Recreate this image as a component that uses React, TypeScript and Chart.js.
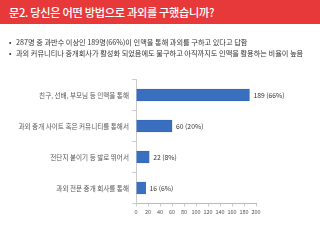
import React, { useEffect, useRef } from "react";
import { Chart, registerables } from "chart.js";

Chart.register(...registerables);

const title = "문2. 당신은 어떤 방법으로 과외를 구했습니까?";
const bullets = [
  "287명 중 과반수 이상인 189명(66%)이 인맥을 통해 과외를 구하고 있다고 답함",
  "과외 커뮤니티나 중개회사가 활성화 되었음에도 불구하고 아직까지도 인맥을 활용하는 비율이 높음",
];
const categories = [
  "친구, 선배, 부모님 등 인맥을 통해",
  "과외 중개 사이트 혹은 커뮤니티를 통해서",
  "전단지 붙이기 등 발로 뛰어서",
  "과외 전문 중개 회사를 통해",
];
const counts = [189, 60, 22, 16];
const percents = ["66%", "20%", "8%", "6%"];

const FONT = "'Noto Sans CJK KR', 'Noto Sans', sans-serif";

const valueLabels = {
  id: "valueLabels",
  afterDatasetsDraw(chart: any) {
    const ctx = chart.ctx;
    const meta = chart.getDatasetMeta(0);
    ctx.save();
    ctx.font = `6.8px ${FONT}`;
    ctx.fillStyle = "#333";
    ctx.textBaseline = "middle";
    ctx.textAlign = "left";
    meta.data.forEach((bar: any, i: number) => {
      ctx.fillText(`${counts[i]} (${percents[i]})`, bar.x + 4, bar.y);
    });
    ctx.restore();
  },
};

export default function App() {
  const ref = useRef<HTMLCanvasElement>(null);
  useEffect(() => {
    if (!ref.current) return;
    const chart = new Chart(ref.current, {
      type: "bar",
      data: {
        labels: categories,
        datasets: [
          {
            data: counts,
            backgroundColor: "#3a6fc0",
            borderColor: "#2d5da6",
            borderWidth: 0.6,
            barThickness: 12,
          },
        ],
      },
      options: {
        indexAxis: "y",
        animation: false,
        responsive: false,
        layout: { padding: { top: 19.5, right: 64, left: 0, bottom: 0.5 } },
        plugins: { legend: { display: false }, tooltip: { enabled: false } },
        scales: {
          x: {
            min: 0,
            max: 200,
            ticks: {
              stepSize: 20,
              font: { size: 5.5, family: FONT },
              color: "#555",
              padding: 2,
              maxRotation: 0,
              autoSkip: false,
            },
            grid: { drawOnChartArea: false, tickLength: 3, color: "#ccc" },
            border: { color: "#bbb" },
            afterFit: (s: any) => {
              s.height = 16;
              s.paddingLeft = 0;
              s.paddingRight = 0;
            },
          },
          y: {
            ticks: {
              font: { size: 6.6, family: FONT },
              color: "#555",
              padding: 3,
            },
            grid: { drawOnChartArea: false, tickLength: 4, color: "#ccc", offset: true },
            border: { color: "#ccc" },
            afterFit: (s: any) => {
              s.width = 136;
            },
          },
        },
      },
      plugins: [valueLabels],
    });
    return () => chart.destroy();
  }, []);

  return (
    <div
      style={{
        position: "absolute",
        left: 0,
        top: 0,
        width: 320,
        height: 240,
        background: "#fff",
        overflow: "hidden",
        fontFamily: FONT,
      }}
    >
      <div
        style={{
          position: "absolute",
          left: 0,
          top: 0,
          width: 320,
          height: 24,
          background: "#e8393a",
        }}
      >
        <div
          style={{
            position: "absolute",
            left: 9,
            top: 0,
            height: 24,
            lineHeight: "24px",
            color: "#fff",
            fontWeight: 500,
            fontSize: 11.2,
            whiteSpace: "nowrap",
            letterSpacing: -0.3,
          }}
        >
          {title}
        </div>
      </div>
      {bullets.map((b, i) => (
        <div
          key={i}
          style={{
            position: "absolute",
            left: 9,
            top: 37 + i * 11,
            height: 10,
            lineHeight: "10px",
            fontSize: 7.2,
            color: "#333",
            whiteSpace: "nowrap",
            willChange: "transform",
          }}
        >
          <span style={{ display: "inline-block", width: 7 }}>•</span>
          {b}
        </div>
      ))}
      <div style={{ position: "absolute", left: 0, top: 60, width: 320, height: 160 }}>
        <canvas ref={ref} width={320} height={160} style={{ width: 320, height: 160 }} />
      </div>
    </div>
  );
}
